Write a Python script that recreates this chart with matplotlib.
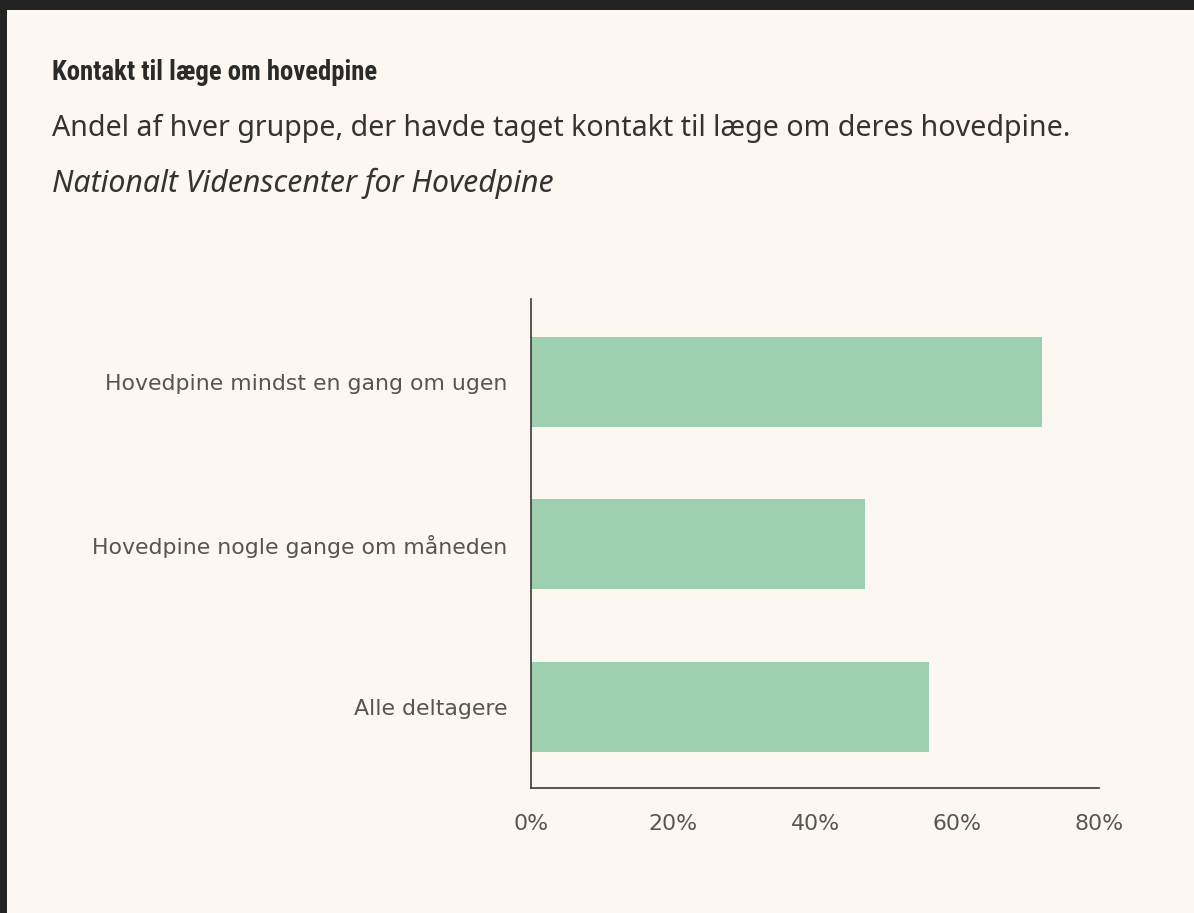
import matplotlib.pyplot as plt
from matplotlib.patches import Rectangle

# groups and share who contacted a doctor (percent)
groups = ['Hovedpine mindst en gang om ugen', 'Hovedpine nogle gange om måneden', 'Alle deltagere']
share = [72, 47, 56]
xticks = [0, 20, 40, 60, 80]

title = 'Kontakt til læge om hovedpine'
subtitle = 'Andel af hver gruppe, der havde taget kontakt til læge om deres hovedpine.'
source = 'Nationalt Videnscenter for Hovedpine'

bg = '#fcf7f1'
fig = plt.figure(figsize=(11.94, 9.13), dpi=100, facecolor='#232323')
# cream card, dark strip at top and left
fig.patches.append(Rectangle((7/1194, 0), 1, 1 - 10/913, transform=fig.transFigure,
                             facecolor=bg, edgecolor='none', zorder=-10))

fig.text(52/1194, 1 - 80/913, title, fontsize=19.3, fontweight='bold', color='#2a2a2a',
         family=['Roboto Condensed', 'DejaVu Sans'], fontstretch='condensed', va='baseline')
fig.text(52/1194, 1 - 135.7/913, subtitle, fontsize=20.6, color='#333333',
         family=['Noto Sans', 'DejaVu Sans'], va='baseline')
fig.text(52/1194, 1 - 191.7/913, source, fontsize=21.8, color='#333333', style='italic',
         family=['Noto Sans', 'DejaVu Sans'], va='baseline')

ax = fig.add_axes([531/1194, 1 - 788/913, 568/1194, 489/913])
ax.set_facecolor(bg)
ax.barh(range(len(groups)), share, height=0.555, color='#9ecfaf')
ax.set_xlim(0, 80)
ax.set_ylim(2.5, -0.51)
ax.set_yticks(range(len(groups)))
ax.set_yticklabels(groups)
ax.set_xticks(xticks)
ax.set_xticklabels([f'{v}%' for v in xticks])
ax.tick_params(axis='both', length=0, labelsize=15.8, labelcolor='#555555')
ax.tick_params(axis='x', pad=19)
ax.tick_params(axis='y', pad=17)
for s in ['top', 'right']:
    ax.spines[s].set_visible(False)
for s in ['left', 'bottom']:
    ax.spines[s].set_color('#3a3a3a')
    ax.spines[s].set_linewidth(1.2)

fig.savefig('out.png', dpi=100, facecolor=fig.get_facecolor())
